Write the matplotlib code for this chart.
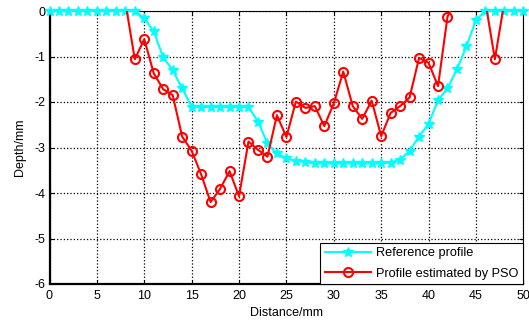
import matplotlib
matplotlib.use("Agg")
import matplotlib.pyplot as plt
import numpy as np

plt.rcParams['font.family'] = ['Liberation Sans', 'DejaVu Sans']

# Reference depth profile (mm), sampled every 1 mm from 0 to 50
ref_x = list(range(0, 51))
ref_depth = [0, 0, 0, 0, 0, 0, 0, 0, 0, 0,
             -0.16, -0.45, -1.02, -1.30, -1.70, -2.10, -2.11, -2.11, -2.11, -2.11,
             -2.11, -2.11, -2.43, -2.91, -3.13, -3.24, -3.29, -3.32, -3.35, -3.35,
             -3.35, -3.35, -3.35, -3.35, -3.35, -3.35, -3.33, -3.27, -3.07, -2.76,
             -2.48, -1.96, -1.70, -1.28, -0.78, -0.20, 0, 0, 0, 0, 0]

# Profile estimated by PSO (mm), from 8 mm to 50 mm
pso_x = list(range(8, 51))
pso_depth = [0.2, -1.06, -0.62, -1.37, -1.72, -1.85, -2.76, -3.07, -3.59, -4.20,
             -3.91, -3.52, -4.07, -2.87, -3.05, -3.20, -2.29, -2.77, -1.99, -2.13,
             -2.09, -2.53, -2.03, -1.33, -2.09, -2.37, -1.97, -2.75, -2.24, -2.09,
             -1.90, -1.03, -1.14, -1.65, -0.125, 0.3, 0.4, 0.3, 0.2, -1.06,
             0.2, 0.3, 0.3]

x_ticks = [0, 5, 10, 15, 20, 25, 30, 35, 40, 45, 50]
y_ticks = [0, -1, -2, -3, -4, -5, -6]

fig = plt.figure(figsize=(5.29, 3.20), dpi=100)
ax = fig.add_axes([49.5 / 529, 1 - 284 / 320, (523.3 - 49.5) / 529, (284 - 11) / 320])

ax.plot(ref_x, ref_depth, color='#00FFFF', linewidth=1.5, marker='*',
        markersize=7, label='Reference profile', clip_on=False, zorder=3)
ax.plot(pso_x, pso_depth, color='#FF0000', linewidth=1.5, marker='o',
        markersize=6.5, markerfacecolor='none', markeredgewidth=1.5,
        label='Profile estimated by PSO', zorder=4)

ax.set_xlim(0, 50)
ax.set_ylim(-6, 0)
ax.set_xticks(x_ticks)
ax.set_yticks(y_ticks)
ax.set_xticklabels([str(v) for v in x_ticks], fontsize=9)
ax.set_yticklabels([str(v) for v in y_ticks], fontsize=9)
ax.tick_params(direction='in', length=3, width=0.8, top=True, right=True)
ax.tick_params(axis='x', pad=4)
ax.tick_params(axis='y', pad=3)

ax.grid(True, color='black', linestyle=':', linewidth=0.9)
ax.set_axisbelow(True)

for side in ['left', 'bottom']:
    ax.spines[side].set_linewidth(1.6)
for side in ['right', 'top']:
    ax.spines[side].set_linewidth(0.8)

ax.set_xlabel('Distance/mm', fontsize=9, labelpad=4)
ax.set_ylabel('Depth/mm', fontsize=9, labelpad=6)

leg = ax.legend(loc='lower right', fontsize=9.2, frameon=True, fancybox=False,
                borderaxespad=0, handlelength=3.6, borderpad=0.35,
                labelspacing=0.65, handletextpad=0.45)
leg.get_frame().set_edgecolor('black')
leg.get_frame().set_linewidth(0.8)
leg.get_frame().set_alpha(1)

fig.savefig('out.png', dpi=100)
